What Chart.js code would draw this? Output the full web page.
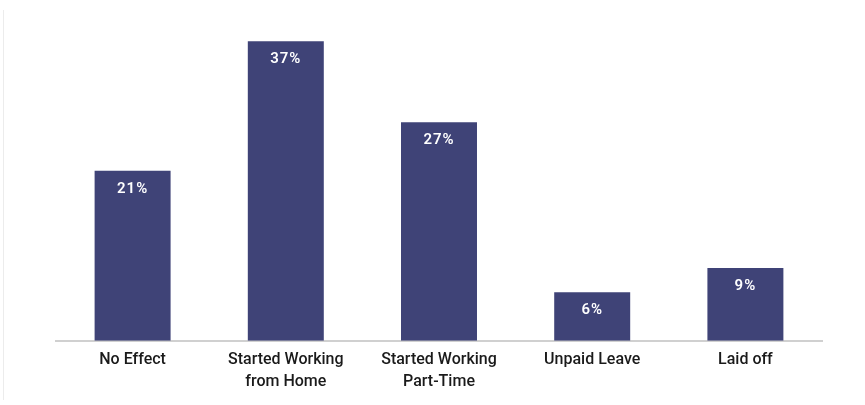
<!DOCTYPE html>
<html>
<head>
<meta charset="utf-8">
<script src="https://cdn.jsdelivr.net/npm/chart.js@4"></script>
<style>
  html, body { margin: 0; padding: 0; background: #fff; }
  #wrap { position: relative; width: 865px; height: 405px; }
  #edge { position: absolute; left: 3px; top: 10px; width: 1px; height: 390px; background: #ececec; }
</style>
</head>
<body>
<div id="wrap">
  <div id="edge"></div>
  <canvas id="effectChart" width="865" height="405"></canvas>
</div>
<script>
const categories = [
  'No Effect',
  ['Started Working', 'from Home'],
  ['Started Working', 'Part-Time'],
  'Unpaid Leave',
  'Laid off'
];
const shares = [21, 37, 27, 6, 9];

// white percentage labels inside the top of each bar
const barLabels = {
  id: 'barLabels',
  afterDatasetsDraw(chart) {
    const ctx = chart.ctx;
    const meta = chart.getDatasetMeta(0);
    ctx.save();
    ctx.fillStyle = '#ffffff';
    ctx.font = '600 15px Roboto';
    ctx.letterSpacing = '1px';
    ctx.textAlign = 'center';
    ctx.textBaseline = 'middle';
    meta.data.forEach((bar, i) => {
      ctx.fillText(shares[i] + '%', bar.x, bar.y + 18);
    });
    ctx.restore();
  }
};

const ctx = document.getElementById('effectChart').getContext('2d');
const chart = new Chart(ctx, {
  type: 'bar',
  data: {
    labels: categories,
    datasets: [{
      label: 'share',
      data: shares,
      backgroundColor: '#3f4377',
      categoryPercentage: 0.62,
      barPercentage: 0.8
    }]
  },
  options: {
    responsive: false,
    animation: false,
    layout: { padding: { top: 17, left: 56, right: 43, bottom: 12 } },
    plugins: {
      legend: { display: false },
      tooltip: { enabled: false }
    },
    scales: {
      x: {
        grid: { display: false },
        border: { color: '#d0d0d0', width: 2 },
        ticks: {
          color: '#1a1a1a',
          font: { family: 'Roboto', size: 16, weight: '500', lineHeight: 1.38 },
          padding: 0,
          maxRotation: 0
        }
      },
      y: {
        display: false,
        min: 0,
        max: 40
      }
    }
  },
  plugins: [barLabels]
});
</script>
</body>
</html>
